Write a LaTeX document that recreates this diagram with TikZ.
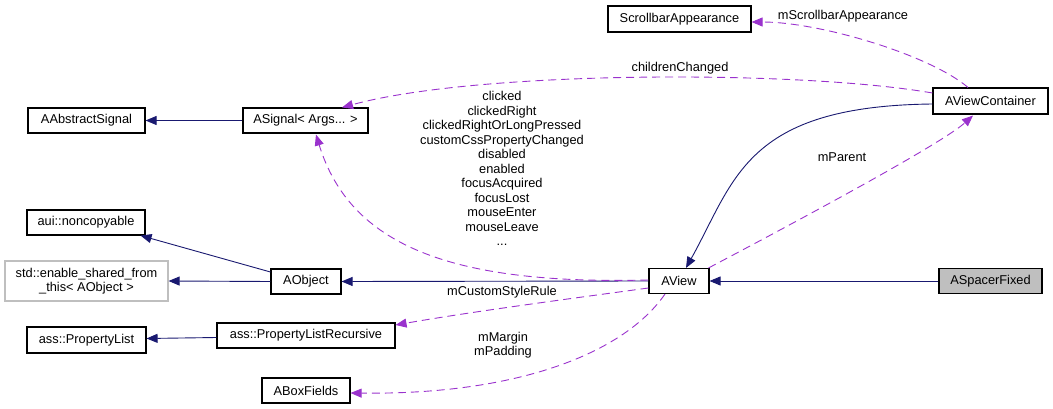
\documentclass[tikz,border=0pt]{standalone}
\usepackage{fontspec}
\setmainfont{Liberation Sans}
\usetikzlibrary{arrows.meta,calc}
\definecolor{navy}{HTML}{191970}
\definecolor{orchid}{HTML}{9A32CD}
\definecolor{boxgray}{HTML}{BFBFBF}
\begin{document}
\begin{tikzpicture}[x=1pt,y=-1pt,
  font=\fontsize{12.8}{14.5}\selectfont,
  cls/.style={draw=black, line width=1.1pt, inner sep=0pt, minimum height=25pt, fill=white},
  inh/.style={draw=navy, line width=0.9pt, -{Triangle[length=11pt,width=9pt]}},
  use/.style={draw=orchid, line width=0.9pt, dash pattern=on 8pt off 5pt, -{Triangle[length=11pt,width=9pt]}},
  lbl/.style={inner sep=0pt, align=center}]
\useasboundingbox (0,0) rectangle (1053,409);
% nodes
\node[cls, minimum width=143pt, minimum height=26pt] (sa) at (679.5,19) {ScrollbarAppearance};
\node[cls, minimum width=115pt, minimum height=26pt] (avc) at (990.5,101) {AViewContainer};
\node[cls, minimum width=117pt] (aas) at (86.5,120.5) {AAbstractSignal};
\node[cls, minimum width=125pt] (asig) at (305.5,120.5) {ASignal< Args... >};
\node[cls, minimum width=118pt] (nc) at (86,222.5) {aui::noncopyable};
\node[cls, draw=boxgray, minimum width=163pt, minimum height=40pt, align=center] (esf) at (86.5,281) {std::enable\_shared\_from\\\_this< AObject >};
\node[cls, minimum width=70pt] (aobj) at (306,281.5) {AObject};
\node[cls, minimum width=60pt] (av) at (679,281) {AView};
\node[cls, fill=boxgray, minimum width=103pt] (asf) at (990.5,281) {ASpacerFixed};
\node[cls, minimum width=119pt, minimum height=26pt] (pl) at (86.5,340) {ass::PropertyList};
\node[cls, minimum width=178pt] (plr) at (306,335.5) {ass::PropertyListRecursive};
\node[cls, minimum width=88pt] (abf) at (306,390.5) {ABoxFields};
% inheritance edges
\draw[inh] (asig.west) -- (aas.east);
\draw[inh] ($(aobj.west)+(0,-9.5)$) -- ($(nc.south east)+(-5,0)$);
\draw[inh] (aobj.west) -- (esf.east);
\draw[inh] (av.west) -- (aobj.east);
\draw[inh] (asf.west) -- (av.east);
\draw[inh] ($(plr.west)+(0,2)$) -- ($(pl.east)+(0,-1.5)$);
\draw[inh] ($(avc.west)+(0,3)$) .. controls (745,106) and (735,180) .. ($(av.north)+(7,0)$);
% usage edges
\draw[use] ($(avc.north)+(-22.5,0)$) .. controls (930,55) and (820,22) .. ($(sa.east)+(0,3)$);
\draw[use] ($(avc.west)+(0,-8)$) .. controls (800,70) and (480,70) .. ($(asig.north)+(36.5,0)$);
\draw[use] ($(av.west)+(0,-1)$) .. controls (450,285) and (350,245) .. ($(asig.south)+(10.5,1)$);
\draw[use] ($(av.north east)+(-1,0)$) .. controls (790,225) and (940,145) .. ($(avc.south)+(-17.5,1)$);
\draw[use] ($(av.west)+(0,7)$) .. controls (560,300) and (470,312) .. ($(plr.east)+(0,-10.5)$);
\draw[use] ($(av.south)+(-14,0)$) .. controls (625,352) and (520,395) .. ($(abf.east)+(0,2.5)$);
% labels
\node[lbl] (l1) at (843,16) {mScrollbarAppearance};
\node[lbl] (l2) at (680,68) {childrenChanged};
\node[lbl] (l3) at (502,168.5) {clicked\\clickedRight\\clickedRightOrLongPressed\\customCssPropertyChanged\\disabled\\enabled\\focusAcquired\\focusLost\\mouseEnter\\mouseLeave\\...};
\node[lbl] (l4) at (842,157) {mParent};
\node[lbl] (l5) at (502,292) {mCustomStyleRule};
\node[lbl] (l6) at (503,345) {mMargin\\mPadding};
\end{tikzpicture}
\end{document}
